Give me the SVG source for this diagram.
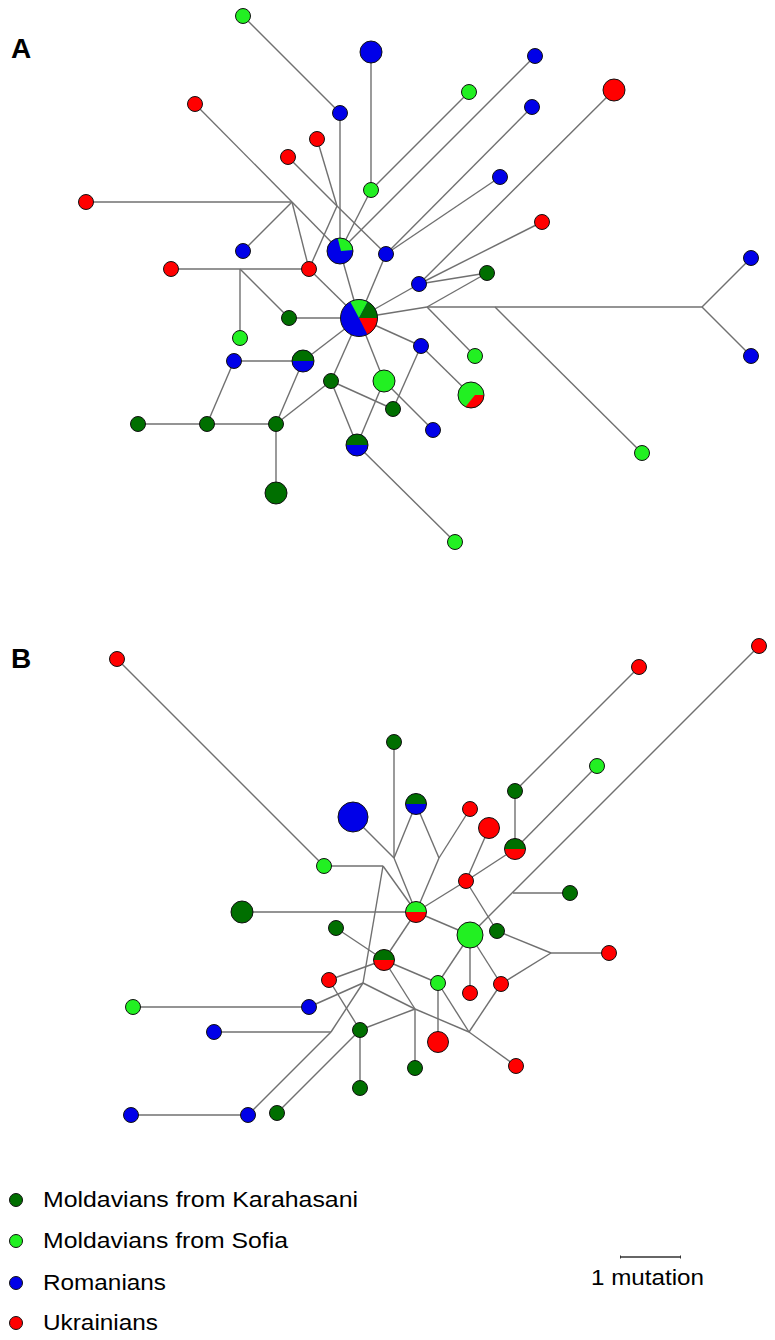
<svg xmlns="http://www.w3.org/2000/svg" width="775" height="1340" viewBox="0 0 775 1340">
<style>
.e line{stroke:#707070;stroke-width:1.4;fill:none}
circle,path{stroke:none}
.o{fill:none;stroke:#111;stroke-width:1}
.n{stroke:#111;stroke-width:1}
.dg{fill:#006f00}
.lg{fill:#22f022}
.bl{fill:#0000e8}
.rd{fill:#ff0000}
.lbl{font-family:"Liberation Sans",Arial,sans-serif;font-weight:bold;font-size:28px;fill:#000}
.t{font-family:"Liberation Sans",Arial,sans-serif;font-size:22px;fill:#000}
</style>
<rect width="775" height="1340" fill="#fff"/>
<text class="lbl" x="11" y="58">A</text>
<text class="lbl" x="11" y="668">B</text>
<g id="connectors" class="e">
<line x1="243" y1="16" x2="340" y2="113"/>
<line x1="340" y1="113" x2="340" y2="251"/>
<line x1="371" y1="52" x2="371" y2="190"/>
<line x1="371" y1="190" x2="340" y2="251"/>
<line x1="469" y1="92" x2="371" y2="190"/>
<line x1="535" y1="56" x2="340" y2="251"/>
<line x1="532" y1="107" x2="386" y2="254"/>
<line x1="500" y1="177" x2="386" y2="254"/>
<line x1="614" y1="90" x2="419" y2="284"/>
<line x1="542" y1="222" x2="419" y2="284"/>
<line x1="487" y1="273" x2="419" y2="284"/>
<line x1="487" y1="273" x2="427" y2="307"/>
<line x1="288" y1="157" x2="337" y2="206"/>
<line x1="337" y1="206" x2="386" y2="254"/>
<line x1="317" y1="139" x2="337" y2="206"/>
<line x1="337" y1="206" x2="309" y2="269"/>
<line x1="386" y1="254" x2="359" y2="318"/>
<line x1="419" y1="284" x2="359" y2="318"/>
<line x1="427" y1="307" x2="359" y2="318"/>
<line x1="427" y1="307" x2="702" y2="307"/>
<line x1="702" y1="307" x2="751" y2="258"/>
<line x1="702" y1="307" x2="751" y2="356"/>
<line x1="427" y1="307" x2="475" y2="356"/>
<line x1="495" y1="307" x2="642" y2="453"/>
<line x1="359" y1="318" x2="421" y2="346"/>
<line x1="421" y1="346" x2="471" y2="395"/>
<line x1="421" y1="346" x2="393" y2="409"/>
<line x1="359" y1="318" x2="384" y2="381"/>
<line x1="384" y1="381" x2="433" y2="430"/>
<line x1="384" y1="381" x2="357" y2="445"/>
<line x1="359" y1="318" x2="331" y2="381"/>
<line x1="331" y1="381" x2="393" y2="409"/>
<line x1="331" y1="381" x2="357" y2="445"/>
<line x1="331" y1="381" x2="276" y2="424"/>
<line x1="359" y1="318" x2="303" y2="361"/>
<line x1="303" y1="361" x2="234" y2="361"/>
<line x1="303" y1="361" x2="276" y2="424"/>
<line x1="234" y1="361" x2="207" y2="424"/>
<line x1="138" y1="424" x2="276" y2="424"/>
<line x1="276" y1="424" x2="276" y2="493"/>
<line x1="357" y1="445" x2="455" y2="542"/>
<line x1="359" y1="318" x2="289" y2="318"/>
<line x1="289" y1="318" x2="240" y2="269"/>
<line x1="240" y1="269" x2="240" y2="338"/>
<line x1="171" y1="269" x2="309" y2="269"/>
<line x1="309" y1="269" x2="359" y2="318"/>
<line x1="309" y1="269" x2="292" y2="202"/>
<line x1="86" y1="202" x2="292" y2="202"/>
<line x1="292" y1="202" x2="243" y2="251"/>
<line x1="195" y1="104" x2="292" y2="202"/>
<line x1="292" y1="202" x2="340" y2="251"/>
<line x1="340" y1="251" x2="359" y2="318"/>

<line x1="117" y1="659" x2="324" y2="866"/>
<line x1="324" y1="866" x2="383" y2="866"/>
<line x1="383" y1="866" x2="416" y2="912"/>
<line x1="383" y1="866" x2="363" y2="983"/>
<line x1="363" y1="983" x2="309" y2="1007"/>
<line x1="133" y1="1007" x2="309" y2="1007"/>
<line x1="363" y1="983" x2="331" y2="1032"/>
<line x1="214" y1="1032" x2="331" y2="1032"/>
<line x1="331" y1="1032" x2="248" y2="1115"/>
<line x1="131" y1="1115" x2="248" y2="1115"/>
<line x1="363" y1="983" x2="415" y2="1009"/>
<line x1="415" y1="1009" x2="469" y2="1032"/>
<line x1="384" y1="960" x2="415" y2="1009"/>
<line x1="360" y1="1030" x2="415" y2="1009"/>
<line x1="415" y1="1009" x2="415" y2="1068"/>
<line x1="360" y1="1030" x2="360" y2="1088"/>
<line x1="360" y1="1030" x2="329" y2="980"/>
<line x1="360" y1="1030" x2="277" y2="1113"/>
<line x1="329" y1="980" x2="384" y2="960"/>
<line x1="336" y1="928" x2="384" y2="960"/>
<line x1="384" y1="960" x2="438" y2="983"/>
<line x1="384" y1="960" x2="416" y2="912"/>
<line x1="438" y1="983" x2="470" y2="935"/>
<line x1="438" y1="983" x2="438" y2="1042"/>
<line x1="438" y1="983" x2="469" y2="1032"/>
<line x1="469" y1="1032" x2="501" y2="984"/>
<line x1="469" y1="1032" x2="516" y2="1066"/>
<line x1="501" y1="984" x2="470" y2="935"/>
<line x1="501" y1="984" x2="551" y2="953"/>
<line x1="470" y1="993" x2="470" y2="935"/>
<line x1="470" y1="935" x2="416" y2="912"/>
<line x1="470" y1="935" x2="759" y2="646"/>
<line x1="513" y1="893" x2="570" y2="893"/>
<line x1="497" y1="931" x2="551" y2="953"/>
<line x1="551" y1="953" x2="609" y2="953"/>
<line x1="497" y1="931" x2="466" y2="881"/>
<line x1="466" y1="881" x2="416" y2="912"/>
<line x1="466" y1="881" x2="489" y2="828"/>
<line x1="466" y1="881" x2="515" y2="849"/>
<line x1="515" y1="849" x2="515" y2="791"/>
<line x1="515" y1="791" x2="639" y2="667"/>
<line x1="515" y1="849" x2="597" y2="766"/>
<line x1="416" y1="912" x2="242" y2="912"/>
<line x1="416" y1="912" x2="394" y2="858"/>
<line x1="394" y1="858" x2="394" y2="742"/>
<line x1="394" y1="858" x2="353" y2="817"/>
<line x1="394" y1="858" x2="416" y2="804"/>
<line x1="416" y1="804" x2="439" y2="858"/>
<line x1="439" y1="858" x2="416" y2="912"/>
<line x1="439" y1="858" x2="470" y2="809"/>
</g>

<g id="panelA">
<circle id="a1" class="n lg" cx="243" cy="16" r="7.5"/>
<circle id="a2" class="n bl" cx="371" cy="52" r="11"/>
<circle id="a3" class="n rd" cx="195" cy="104" r="7.5"/>
<circle id="a4" class="n bl" cx="340" cy="113" r="7.5"/>
<circle id="a5" class="n rd" cx="317" cy="139" r="7.5"/>
<circle id="a6" class="n rd" cx="288" cy="157" r="7.5"/>
<circle id="a7" class="n lg" cx="371" cy="190" r="7.5"/>
<circle id="a8" class="n rd" cx="86" cy="202" r="7.5"/>
<circle id="a9" class="n bl" cx="243" cy="251" r="7.5"/>
<g id="a10">
<circle class="bl" cx="340" cy="251" r="13"/>
<path class="lg" d="M341,251 L337.7,238.2 A13 13 0 0 1 353,250 Z"/>
<circle class="o" cx="340" cy="251" r="13"/>
</g>
<circle id="a11" class="n bl" cx="386" cy="254" r="7.5"/>
<circle id="a12" class="n rd" cx="171" cy="269" r="7.5"/>
<circle id="a13" class="n rd" cx="309" cy="269" r="7.5"/>
<circle id="a14" class="n bl" cx="535" cy="56" r="7.5"/>
<circle id="a15" class="n lg" cx="469" cy="92" r="7.5"/>
<circle id="a16" class="n bl" cx="532" cy="107" r="7.5"/>
<circle id="a17" class="n rd" cx="614" cy="90" r="11"/>
<circle id="a18" class="n bl" cx="500" cy="177" r="7.5"/>
<circle id="a19" class="n rd" cx="542" cy="222" r="7.5"/>
<circle id="a20" class="n bl" cx="751" cy="258" r="7.5"/>
<circle id="a21" class="n bl" cx="751" cy="356" r="7.5"/>
<circle id="a22" class="n dg" cx="487" cy="273" r="7.5"/>
<circle id="a23" class="n bl" cx="419" cy="284" r="7.5"/>
<g id="a24">
<circle class="bl" cx="359" cy="318" r="18.5"/>
<path class="lg" d="M359,318 L350.3,301.7 A18.5 18.5 0 0 1 367.7,301.7 Z"/>
<path class="dg" d="M359,318 L367.7,301.7 A18.5 18.5 0 0 1 377.5,318 Z"/>
<path class="rd" d="M359,318 L377.5,318 A18.5 18.5 0 0 1 367.4,334.5 Z"/>
<circle class="o" cx="359" cy="318" r="18.5"/>
</g>
<circle id="a25" class="n dg" cx="289" cy="318" r="7.5"/>
<circle id="a26" class="n lg" cx="240" cy="338" r="7.5"/>
<circle id="a27" class="n bl" cx="234" cy="361" r="7.5"/>
<g id="a28">
<circle class="bl" cx="303" cy="361" r="11"/>
<path class="dg" d="M292,361 A11 11 0 0 1 314,361 Z"/>
<circle class="o" cx="303" cy="361" r="11"/>
</g>
<circle id="a29" class="n bl" cx="421" cy="346" r="7.5"/>
<circle id="a30" class="n lg" cx="475" cy="356" r="7.5"/>
<circle id="a31" class="n dg" cx="331" cy="381" r="7.5"/>
<circle id="a32" class="n lg" cx="384" cy="381" r="11"/>
<g id="a33">
<circle class="lg" cx="471" cy="395" r="13"/>
<path class="rd" d="M475,395 L484,395 A13 13 0 0 1 465.5,406.8 Z"/>
<circle class="o" cx="471" cy="395" r="13"/>
</g>
<circle id="a34" class="n dg" cx="393" cy="409" r="7.5"/>
<circle id="a35" class="n bl" cx="433" cy="430" r="7.5"/>
<circle id="a36" class="n dg" cx="138" cy="424" r="7.5"/>
<circle id="a37" class="n dg" cx="207" cy="424" r="7.5"/>
<circle id="a38" class="n dg" cx="276" cy="424" r="7.5"/>
<g id="a39">
<circle class="bl" cx="357" cy="445" r="11"/>
<path class="dg" d="M346,445 A11 11 0 0 1 368,445 Z"/>
<circle class="o" cx="357" cy="445" r="11"/>
</g>
<circle id="a40" class="n dg" cx="276" cy="493" r="11"/>
<circle id="a41" class="n lg" cx="642" cy="453" r="7.5"/>
<circle id="a42" class="n lg" cx="455" cy="542" r="7.5"/>
</g>

<g id="panelB">
<circle id="b1" class="n rd" cx="117" cy="659" r="7.5"/>
<circle id="b2" class="n rd" cx="759" cy="646" r="7.5"/>
<circle id="b3" class="n rd" cx="639" cy="667" r="7.5"/>
<circle id="b4" class="n dg" cx="394" cy="742" r="7.5"/>
<circle id="b5" class="n lg" cx="597" cy="766" r="7.5"/>
<circle id="b6" class="n dg" cx="515" cy="791" r="7.5"/>
<g id="b7">
<circle class="bl" cx="416" cy="804" r="10.5"/>
<path class="dg" d="M405.5,804 A10.5 10.5 0 0 1 426.5,804 Z"/>
<circle class="o" cx="416" cy="804" r="10.5"/>
</g>
<circle id="b8" class="n rd" cx="470" cy="809" r="7.5"/>
<circle id="b9" class="n bl" cx="353" cy="817" r="15"/>
<circle id="b10" class="n rd" cx="489" cy="828" r="10.5"/>
<g id="b11">
<circle class="rd" cx="515" cy="849" r="10.5"/>
<path class="dg" d="M504.5,849 A10.5 10.5 0 0 1 525.5,849 Z"/>
<circle class="o" cx="515" cy="849" r="10.5"/>
</g>
<circle id="b12" class="n lg" cx="324" cy="866" r="7.5"/>
<circle id="b13" class="n rd" cx="466" cy="881" r="7.5"/>
<circle id="b14" class="n dg" cx="570" cy="893" r="7.5"/>
<circle id="b15" class="n dg" cx="242" cy="912" r="11"/>
<g id="b16">
<circle class="rd" cx="416" cy="912" r="10.5"/>
<path class="lg" d="M405.5,912 A10.5 10.5 0 0 1 426.5,912 Z"/>
<circle class="o" cx="416" cy="912" r="10.5"/>
</g>
<circle id="b17" class="n dg" cx="336" cy="928" r="7.5"/>
<circle id="b18" class="n dg" cx="497" cy="931" r="7.5"/>
<circle id="b19" class="n lg" cx="470" cy="935" r="13"/>
<circle id="b20" class="n rd" cx="609" cy="953" r="7.5"/>
<g id="b21">
<circle class="rd" cx="384" cy="960" r="10.5"/>
<path class="dg" d="M373.5,960 A10.5 10.5 0 0 1 394.5,960 Z"/>
<circle class="o" cx="384" cy="960" r="10.5"/>
</g>
<circle id="b22" class="n rd" cx="329" cy="980" r="7.5"/>
<circle id="b23" class="n lg" cx="438" cy="983" r="7.5"/>
<circle id="b24" class="n rd" cx="501" cy="984" r="7.5"/>
<circle id="b25" class="n rd" cx="470" cy="993" r="7.5"/>
<circle id="b26" class="n lg" cx="133" cy="1007" r="7.5"/>
<circle id="b27" class="n bl" cx="309" cy="1007" r="7.5"/>
<circle id="b28" class="n bl" cx="214" cy="1032" r="7.5"/>
<circle id="b29" class="n dg" cx="360" cy="1030" r="7.5"/>
<circle id="b30" class="n rd" cx="438" cy="1042" r="10.5"/>
<circle id="b31" class="n dg" cx="415" cy="1068" r="7.5"/>
<circle id="b32" class="n rd" cx="516" cy="1066" r="7.5"/>
<circle id="b33" class="n dg" cx="360" cy="1088" r="7.5"/>
<circle id="b34" class="n bl" cx="131" cy="1115" r="7.5"/>
<circle id="b35" class="n bl" cx="248" cy="1115" r="7.5"/>
<circle id="b36" class="n dg" cx="277" cy="1113" r="7.5"/>
</g>

<g id="legend">
<circle class="n dg" cx="16" cy="1200" r="6.5"/>
<text class="t" x="43" y="1207" textLength="315" lengthAdjust="spacingAndGlyphs">Moldavians from Karahasani</text>
<circle class="n lg" cx="16" cy="1241" r="6.5"/>
<text class="t" x="43" y="1248" textLength="245" lengthAdjust="spacingAndGlyphs">Moldavians from Sofia</text>
<circle class="n bl" cx="16" cy="1283" r="6.5"/>
<text class="t" x="43" y="1290" textLength="123" lengthAdjust="spacingAndGlyphs">Romanians</text>
<circle class="n rd" cx="16" cy="1323" r="6.5"/>
<text class="t" x="43" y="1330" textLength="115" lengthAdjust="spacingAndGlyphs">Ukrainians</text>
</g>
<g id="scale">
<line x1="620" y1="1257" x2="681" y2="1257" stroke="#333" stroke-width="1.3"/>
<line x1="620.5" y1="1255.5" x2="620.5" y2="1258.5" stroke="#333" stroke-width="1"/>
<line x1="680.5" y1="1255.5" x2="680.5" y2="1258.5" stroke="#333" stroke-width="1"/>
<text class="t" x="591" y="1285" textLength="113" lengthAdjust="spacingAndGlyphs">1 mutation</text>
</g>
</svg>
